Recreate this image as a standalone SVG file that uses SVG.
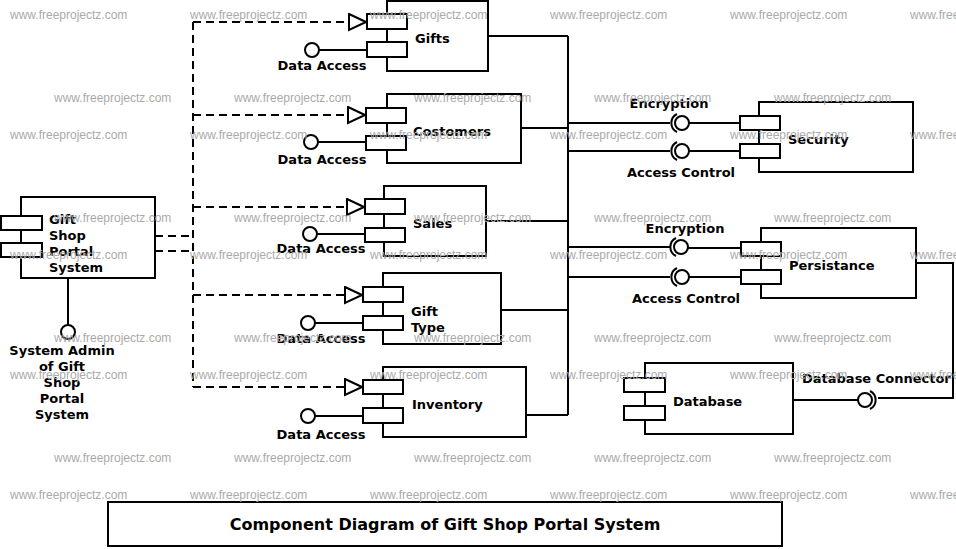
<svg xmlns="http://www.w3.org/2000/svg" width="956" height="549" viewBox="0 0 956 549">
<style>
.b{fill:#fff;stroke:#000;stroke-width:2}
.l{fill:none;stroke:#000;stroke-width:2}
.d{fill:none;stroke:#000;stroke-width:2;stroke-dasharray:8,5}
.t{font-family:"DejaVu Sans",sans-serif;font-weight:bold;font-size:13px;fill:#000}
.c{text-anchor:middle}
.w{font-family:"Liberation Sans",Arial,sans-serif;font-size:12px;fill:#aaa}
</style>
<defs>
<marker id="tri" markerWidth="20" markerHeight="20" refX="18" refY="9" orient="auto" markerUnits="userSpaceOnUse">
<path d="M1,1 L18,9 L1,17 Z" fill="#fff" stroke="#000" stroke-width="2"/>
</marker>
</defs>
<rect width="956" height="549" fill="#fff"/>
<g id="connectors">
<path class="d" d="M155,236 H193 M155,251 H193 M193,22 V387"/>
<path class="d" d="M193,22 H366" marker-end="url(#tri)"/>
<path class="d" d="M193,115 H365" marker-end="url(#tri)"/>
<path class="d" d="M193,207 H364" marker-end="url(#tri)"/>
<path class="d" d="M193,295 H362" marker-end="url(#tri)"/>
<path class="d" d="M193,387 H362" marker-end="url(#tri)"/>
<path class="l" d="M68,278 V325"/>
<circle class="b" cx="68" cy="332" r="7"/>
<path class="l" d="M319,50 H367 M318,142 H366 M317,234 H365 M315,323 H363 M315,416 H363"/>
<circle class="b" cx="312" cy="50" r="7"/>
<circle class="b" cx="311" cy="142" r="7"/>
<circle class="b" cx="310" cy="234" r="7"/>
<circle class="b" cx="308" cy="323" r="7"/>
<circle class="b" cx="308" cy="416" r="7"/>
<path class="l" d="M488,36 H568 M521,128 H568 M486,221 H568 M501,310 H568 M526,415 H568 M568,36 V415"/>
<path class="l" d="M568,123 H670 M689,123 H740 M568,151 H670 M689,151 H740 M568,247 H670 M688,248 H741 M568,277 H670 M689,277 H741"/>
<circle class="b" cx="682" cy="123" r="7"/>
<circle class="b" cx="682" cy="151" r="7"/>
<circle class="b" cx="681" cy="247" r="7"/>
<circle class="b" cx="682" cy="277" r="7"/>
<path class="l" d="M677,114 A10,10 0 0 0 677,132 M677,142 A10,10 0 0 0 677,160 M676,238 A10,10 0 0 0 676,256 M677,268 A10,10 0 0 0 677,286"/>
<path class="l" d="M916,263 H953 V398 H878 M793,400 H858"/>
<circle class="b" cx="865" cy="400" r="7"/>
<path class="l" d="M870,391 A10,10 0 0 1 870,409"/>
</g>
<g id="gsps">
<rect class="b" x="21" y="197" width="134" height="81"/>
<rect class="b" x="1" y="216" width="41" height="14"/>
<rect class="b" x="1" y="243" width="41" height="14"/>
<text class="t" x="49" y="224">Gift</text>
<text class="t" x="49" y="240">Shop</text>
<text class="t" x="49" y="256">Portal</text>
<text class="t" x="49" y="272">System</text>
<text class="t c" x="62" y="355">System Admin</text>
<text class="t c" x="62" y="371">of Gift</text>
<text class="t c" x="62" y="387">Shop</text>
<text class="t c" x="62" y="403">Portal</text>
<text class="t c" x="62" y="419">System</text>
</g>
<g id="gifts">
<rect class="b" x="387" y="1" width="101" height="70"/>
<rect class="b" x="367" y="14" width="40" height="15"/>
<rect class="b" x="367" y="42" width="40" height="15"/>
<text class="t" x="415" y="43">Gifts</text>
<text class="t c" x="322" y="70">Data Access</text>
</g>
<g id="costomers">
<rect class="b" x="387" y="94" width="134" height="69"/>
<rect class="b" x="366" y="108" width="40" height="15"/>
<rect class="b" x="366" y="136" width="40" height="14"/>
<text class="t" x="413" y="136">Costomers</text>
<text class="t c" x="322" y="164">Data Access</text>
</g>
<g id="sales">
<rect class="b" x="384" y="186" width="102" height="70"/>
<rect class="b" x="365" y="199" width="40" height="15"/>
<rect class="b" x="365" y="228" width="40" height="14"/>
<text class="t" x="413" y="228">Sales</text>
<text class="t c" x="321" y="253">Data Access</text>
</g>
<g id="gifttype">
<rect class="b" x="383" y="273" width="118" height="71"/>
<rect class="b" x="363" y="287" width="40" height="15"/>
<rect class="b" x="363" y="316" width="40" height="14"/>
<text class="t" x="411" y="316">Gift</text>
<text class="t" x="411" y="332">Type</text>
<text class="t c" x="321" y="343">Data Access</text>
</g>
<g id="inventory">
<rect class="b" x="383" y="367" width="143" height="70"/>
<rect class="b" x="363" y="380" width="40" height="14"/>
<rect class="b" x="363" y="408" width="40" height="15"/>
<text class="t" x="412" y="409">Inventory</text>
<text class="t c" x="321" y="439">Data Access</text>
</g>
<g id="security">
<rect class="b" x="759" y="102" width="154" height="70"/>
<rect class="b" x="740" y="116" width="40" height="14"/>
<rect class="b" x="740" y="144" width="40" height="14"/>
<text class="t" x="788" y="144">Security</text>
<text class="t c" x="669" y="108">Encryption</text>
<text class="t c" x="681" y="177">Access Control</text>
</g>
<g id="persistance">
<rect class="b" x="761" y="228" width="155" height="70"/>
<rect class="b" x="741" y="242" width="40" height="14"/>
<rect class="b" x="741" y="270" width="40" height="14"/>
<text class="t" x="789" y="270">Persistance</text>
<text class="t c" x="685" y="233">Encryption</text>
<text class="t c" x="686" y="303">Access Control</text>
</g>
<g id="database">
<rect class="b" x="645" y="363" width="148" height="71"/>
<rect class="b" x="624" y="378" width="41" height="14"/>
<rect class="b" x="624" y="406" width="41" height="14"/>
<text class="t" x="673" y="406">Database</text>
<text class="t" x="802" y="383">Database Connector</text>
</g>
<g id="title">
<rect class="b" x="108" y="502" width="674" height="44"/>
<text class="t c" x="445" y="530" style="font-size:16px">Component Diagram of Gift Shop Portal System</text>
</g>
<g id="watermarks" class="w">
<text x="10" y="19">www.freeprojectz.com</text><text x="190" y="19">www.freeprojectz.com</text><text x="370" y="19">www.freeprojectz.com</text><text x="550" y="19">www.freeprojectz.com</text><text x="730" y="19">www.freeprojectz.com</text><text x="910" y="19">www.freeprojectz.com</text>
<text x="54" y="102">www.freeprojectz.com</text><text x="234" y="102">www.freeprojectz.com</text><text x="414" y="102">www.freeprojectz.com</text><text x="594" y="102">www.freeprojectz.com</text><text x="774" y="102">www.freeprojectz.com</text>
<text x="10" y="139">www.freeprojectz.com</text><text x="190" y="139">www.freeprojectz.com</text><text x="370" y="139">www.freeprojectz.com</text><text x="550" y="139">www.freeprojectz.com</text><text x="730" y="139">www.freeprojectz.com</text><text x="910" y="139">www.freeprojectz.com</text>
<text x="54" y="222">www.freeprojectz.com</text><text x="234" y="222">www.freeprojectz.com</text><text x="414" y="222">www.freeprojectz.com</text><text x="594" y="222">www.freeprojectz.com</text><text x="774" y="222">www.freeprojectz.com</text>
<text x="10" y="259">www.freeprojectz.com</text><text x="190" y="259">www.freeprojectz.com</text><text x="370" y="259">www.freeprojectz.com</text><text x="550" y="259">www.freeprojectz.com</text><text x="730" y="259">www.freeprojectz.com</text><text x="910" y="259">www.freeprojectz.com</text>
<text x="54" y="342">www.freeprojectz.com</text><text x="234" y="342">www.freeprojectz.com</text><text x="414" y="342">www.freeprojectz.com</text><text x="594" y="342">www.freeprojectz.com</text><text x="774" y="342">www.freeprojectz.com</text>
<text x="10" y="379">www.freeprojectz.com</text><text x="190" y="379">www.freeprojectz.com</text><text x="370" y="379">www.freeprojectz.com</text><text x="550" y="379">www.freeprojectz.com</text><text x="730" y="379">www.freeprojectz.com</text><text x="910" y="379">www.freeprojectz.com</text>
<text x="54" y="462">www.freeprojectz.com</text><text x="234" y="462">www.freeprojectz.com</text><text x="414" y="462">www.freeprojectz.com</text><text x="594" y="462">www.freeprojectz.com</text><text x="774" y="462">www.freeprojectz.com</text>
<text x="10" y="499">www.freeprojectz.com</text><text x="190" y="499">www.freeprojectz.com</text><text x="370" y="499">www.freeprojectz.com</text><text x="550" y="499">www.freeprojectz.com</text><text x="730" y="499">www.freeprojectz.com</text><text x="910" y="499">www.freeprojectz.com</text>
</g>
</svg>
